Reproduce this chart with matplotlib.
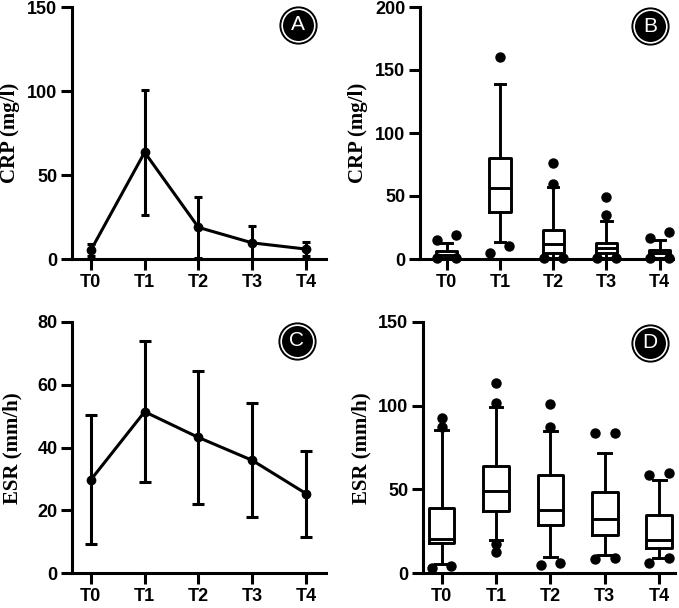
import numpy as np
import matplotlib
matplotlib.use('Agg')
import matplotlib.pyplot as plt
from matplotlib.lines import Line2D

plt.rcParams['font.family'] = 'Liberation Sans'

W, H = 679, 608

tiempos = ['T0', 'T1', 'T2', 'T3', 'T4']

# A: PCR, media +- DE
crp_media = [5.2, 63.5, 18.8, 9.6, 5.9]
crp_de = [3.7, 37.2, 18.4, 9.8, 4.2]

# C: VSG, media +- DE
esr_media = [29.7, 51.4, 43.2, 35.9, 25.3]
esr_de = [20.6, 22.4, 21.2, 18.2, 13.7]

# B: PCR, cajas
crp_bigote_inf = [0, 13.5, 1, 1, 0]
crp_q1 = [1, 37, 5, 5, 1]
crp_mediana = [3, 56, 12, 9, 5]
crp_q3 = [6, 80.5, 23, 13, 7.5]
crp_bigote_sup = [12.7, 139, 57, 30.3, 15.3]
crp_atipicos = [[0.5, 0.5, 14.8, 19.3], [4.7, 10, 160], [0.5, 0.5, 59.5, 76.5],
                [0.5, 0.5, 35, 49], [0.5, 0.5, 16.6, 21.4]]

# D: VSG, cajas
esr_bigote_inf = [5.1, 19.8, 9.5, 10.7, 9.1]
esr_q1 = [18, 36.9, 28.9, 23, 15]
esr_mediana = [20.5, 48.8, 37.9, 32, 19.6]
esr_q3 = [38.9, 64, 58.7, 48.4, 34.9]
esr_bigote_sup = [85.5, 99.4, 84.9, 71.5, 55.3]
esr_atipicos = [[3.2, 4.2, 87.5, 92.9], [12.7, 17.5, 101.4, 113.3], [5, 6, 87.5, 100.8],
                [8.3, 9.1, 83.9, 83.9], [5.7, 8.7, 58.3, 59.7]]

LW = 2.2


def eje(fig, izq, der, arriba, abajo):
    return fig.add_axes([izq / W, 1 - abajo / H, (der - izq) / W, (abajo - arriba) / H])


def estilo(ax, ymax, paso, xlim):
    ax.set_xlim(*xlim)
    ax.set_ylim(0, ymax)
    ax.set_yticks(np.arange(0, ymax + 1, paso))
    ax.set_xticks(range(len(tiempos)))
    ax.set_xticklabels(tiempos)
    for s in ['top', 'right']:
        ax.spines[s].set_visible(False)
    for s in ['left', 'bottom']:
        ax.spines[s].set_linewidth(LW)
    ax.tick_params(direction='out', length=8, width=LW, labelsize=13)
    ax.tick_params(axis='y', pad=2.5)
    ax.tick_params(axis='x', pad=3)
    for t in ax.get_xticklabels() + ax.get_yticklabels():
        t.set_fontweight('bold')


def media_de(ax, media, de, cap):
    x = np.arange(len(tiempos))
    ax.errorbar(x, media, yerr=de, fmt='-o', color='black', lw=LW, ms=6,
                capsize=cap, capthick=LW, elinewidth=LW)


def cajas(ax, inf, q1, med, q3, sup, atipicos, ancho, ymax, alto_px):
    stats = []
    for i in range(len(tiempos)):
        stats.append(dict(whislo=inf[i], q1=q1[i], med=med[i], q3=q3[i], whishi=sup[i], fliers=[]))
    props = dict(color='black', linewidth=2.1)
    ax.bxp(stats, positions=range(len(tiempos)), widths=ancho, capwidths=ancho / 2,
           showfliers=False, boxprops=props, whiskerprops=props, capprops=props,
           medianprops=props)
    # puntos que se solapan se separan a los lados
    px = alto_px / ymax
    for i, valores in enumerate(atipicos):
        valores = sorted(valores)
        xs = [0.0] * len(valores)
        j = 0
        while j < len(valores):
            if j + 1 < len(valores) and (valores[j + 1] - valores[j]) * px < 8:
                xs[j], xs[j + 1] = -0.18, 0.18
                j += 2
            else:
                j += 1
        ax.plot(i + np.array(xs), valores, 'o', color='black', ms=6.5, clip_on=False, zorder=5)


def etiqueta(fig, letra, x, y):
    xf, yf = x / W, 1 - y / H
    fig.add_artist(Line2D([xf], [yf], marker='o', ms=26.5, mfc='black', mec='black',
                          transform=fig.transFigure))
    fig.add_artist(Line2D([xf], [yf], marker='o', ms=23.5, mfc='black', mec='white', mew=1.2,
                          transform=fig.transFigure))
    fig.text(xf, yf, letra, color='white', fontsize=15, ha='center', va='center')


fig = plt.figure(figsize=(W / 100, H / 100), dpi=100)

axA = eje(fig, 72, 326, 7, 259)
media_de(axA, crp_media, crp_de, 3)
estilo(axA, 150, 50, (-0.35, 4.37))

axB = eje(fig, 420, 673, 7, 259)
cajas(axB, crp_bigote_inf, crp_q1, crp_mediana, crp_q3, crp_bigote_sup, crp_atipicos, 0.4, 200, 252)
estilo(axB, 200, 50, (-0.5, 4.25))

axC = eje(fig, 72, 326, 322, 573)
media_de(axC, esr_media, esr_de, 4.5)
estilo(axC, 80, 20, (-0.35, 4.37))

axD = eje(fig, 423, 675, 322, 573)
cajas(axD, esr_bigote_inf, esr_q1, esr_mediana, esr_q3, esr_bigote_sup, esr_atipicos, 0.47, 150, 251)
estilo(axD, 150, 50, (-0.34, 4.29))

for txt, x, y in [('CRP (mg/l)', 10, 133), ('CRP (mg/l)', 358, 133),
                  ('ESR (mm/h)', 12, 448), ('ESR (mm/h)', 361, 448)]:
    fig.text(x / W, 1 - y / H, txt, rotation=90, ha='center', va='center',
             family='Liberation Serif', fontweight='bold', fontsize=15)

etiqueta(fig, 'A', 298, 25)
etiqueta(fig, 'B', 650, 26)
etiqueta(fig, 'C', 297, 341)
etiqueta(fig, 'D', 650, 343)

fig.savefig('out.png', dpi=100)
